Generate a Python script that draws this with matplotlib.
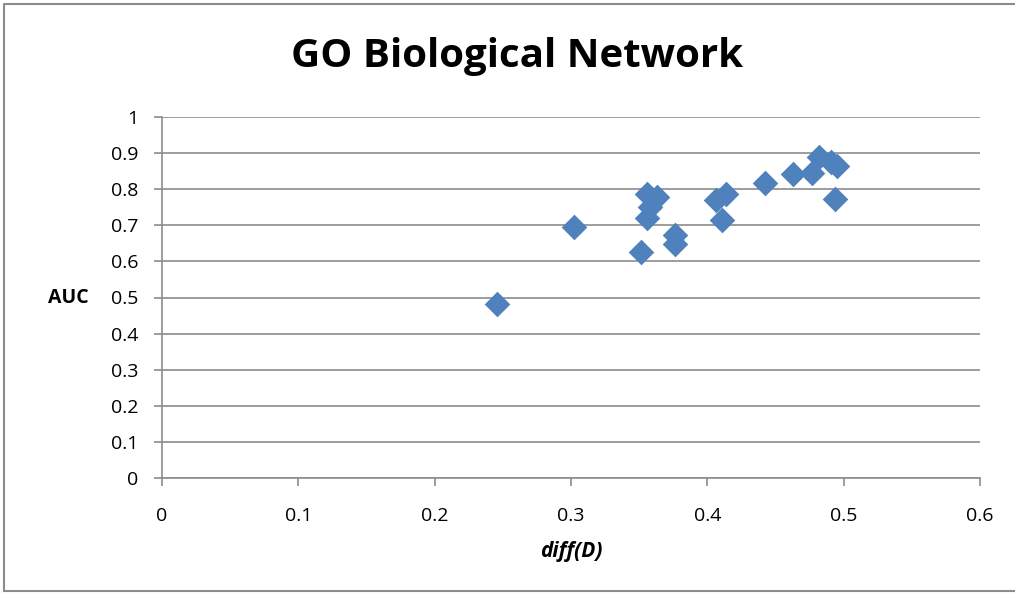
import matplotlib.pyplot as plt

# values
diff_d = [0.246, 0.302, 0.351, 0.356, 0.363, 0.358, 0.356, 0.376, 0.376,
          0.406, 0.414, 0.411, 0.442, 0.463, 0.477, 0.482, 0.491, 0.495, 0.494]
auc = [0.481, 0.695, 0.626, 0.788, 0.778, 0.751, 0.721, 0.672, 0.649,
       0.769, 0.788, 0.716, 0.816, 0.841, 0.846, 0.889, 0.874, 0.864, 0.772]
x_ticks = [0, 0.1, 0.2, 0.3, 0.4, 0.5, 0.6]
y_ticks = [0, 0.1, 0.2, 0.3, 0.4, 0.5, 0.6, 0.7, 0.8, 0.9, 1]

plt.rcParams['font.family'] = ['Open Sans', 'DejaVu Sans']

fig = plt.figure(figsize=(10.15, 6.01), dpi=100)
W, H = 1015, 601
ax = fig.add_axes([162 / W, 1 - 478 / H, (980 - 162) / W, (478 - 117) / H])

ax.scatter(diff_d, auc, marker='D', s=170, color='#4F81BD', zorder=3, linewidths=0)

ax.set_xlim(0, 0.6)
ax.set_ylim(0, 1)
ax.set_xticks(x_ticks)
ax.set_yticks(y_ticks)
ax.set_xticklabels(['0', '0.1', '0.2', '0.3', '0.4', '0.5', '0.6'])
ax.set_yticklabels(['0', '0.1', '0.2', '0.3', '0.4', '0.5', '0.6', '0.7', '0.8', '0.9', '1'])
ax.yaxis.grid(True, color='#8c8c8c', linewidth=1.2)
ax.set_axisbelow(True)
for s in ['top', 'right']:
    ax.spines[s].set_visible(False)
for s in ['left', 'bottom']:
    ax.spines[s].set_color('#8c8c8c')
    ax.spines[s].set_linewidth(1.2)
ax.tick_params(colors='#8c8c8c', labelcolor='black', labelsize=14, length=6, width=1.2)
ax.tick_params(axis='x', pad=15)
ax.tick_params(axis='y', pad=11)

fig.text(517 / W, 1 - 57 / H, 'GO Biological Network', ha='center', va='center',
         fontsize=29, fontweight='bold')
fig.text(68 / W, 1 - 298 / H, 'AUC', ha='center', va='center', fontsize=14, fontweight='bold')
fig.text(571 / W, 1 - 551 / H, 'diff(D)', ha='center', va='center', fontsize=15,
         fontweight='bold', fontstyle='italic')

# outer chart border
fig.add_artist(plt.Line2D([4 / W, 4 / W, 1], [1 - 591 / H, 1 - 4 / H, 1 - 4 / H],
                          transform=fig.transFigure, color='#8c8c8c', linewidth=1.5))
fig.add_artist(plt.Line2D([4 / W, 1], [1 - 591 / H, 1 - 591 / H],
                          transform=fig.transFigure, color='#8c8c8c', linewidth=1.5))

fig.savefig('out.png', dpi=100)
